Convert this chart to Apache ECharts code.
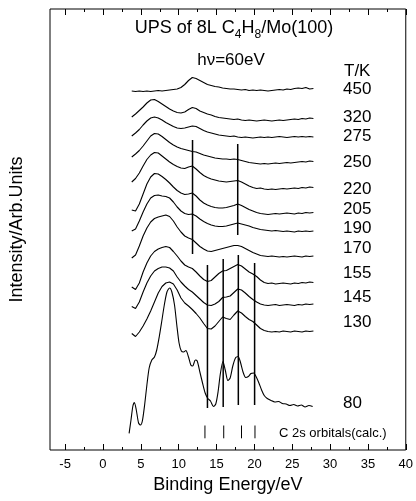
<!DOCTYPE html>
<html>
<head>
<meta charset="utf-8">
<script src="https://cdn.jsdelivr.net/npm/echarts@6/dist/echarts.min.js"></script>
<style>html,body{margin:0;padding:0;background:#fff}#c{width:416px;height:501px}</style>
</head>
<body>
<div id="c"></div>
<script>
// ---------------- data ----------------
const energies = [3.8,4.3,4.8,5.3,5.8,6.3,6.8,7.3,7.8,8.3,8.8,9.3,9.8,10.3,10.8,11.3,11.8,12.3,12.8,13.3,13.8,14.3,14.8,15.3,15.8,16.3,16.8,17.3,17.8,18.3,18.8,19.3,19.8,20.3,20.8,21.3,21.8,22.3,22.8,23.3,23.8,24.3,24.8,25.3,25.8,26.3,26.8,27.3,27.8];
const t450 = [359,358.5,359,358.5,359,358.5,359,359.5,359,359.5,360,360.5,361,362.5,365.5,369.5,372.5,371.5,369.5,367.5,365.5,364.5,363.5,363,362,361.5,361,361,360.5,360,360.5,359.5,360,359.5,360,359.5,359,359.5,360,360.5,360,361,360.5,361.5,362,361.5,362.5,361,361.5];
const t320 = [333,336,339.5,343,347,350,350.5,348.5,346,343.5,341,339,337.5,337,338,340.5,342.5,341.5,339,337.5,336,335,333.5,332.5,332,331.5,331,330.5,331,330,329.5,330,329.5,329,329.5,330,329.5,329,329.5,330,329.5,330,330.5,331,330.5,331.5,331,332,331.5];
const t275 = [314,317,320.5,325,329,332,333,332,330,327.5,325.5,323.5,322,321.5,322,323,324,323.5,321.5,319.5,318,317,316,315,314.5,314,313.5,314,313,312.5,313,312.5,312,312.5,313,312.5,313,312.5,313,313.5,313,312.5,313,313.5,313,313.5,313,313.5,313];
const t250 = [293,296,299.5,304,309,314,316.5,316,313.5,310.5,307.5,305,303,301.5,300.5,299.5,298.5,298,296.5,295,294,293,292,291.5,291,291,290.5,291,290.5,289.5,288.5,287.5,287,286.5,286,286.5,286,286.5,287,286.5,287,287.5,287,287.5,288,288.5,288,289,288.5];
const t220 = [268,271.5,277,284,290.5,295,297.5,297,294,291,288,285.5,283.5,282,281.5,283,284,281,277.5,274.5,272.5,271,270,269,268.5,268,268.5,269,269.5,268,266,264,262.5,261.5,262,261,260.5,261,260.5,261,261.5,261,261.5,262,261.5,262.5,262,263,262.5];
const t205 = [240,239,246,256,266,273,276.5,276,273.5,270.5,267,263,259.5,257,255.5,256,257,254,250,247,245,243.5,242.5,242,242,242.5,243.5,244.5,246,244.5,242.5,240.5,239,237.5,236.5,236,235.5,236,236.5,236,236.5,237,236.5,236,237,236.5,237.5,237,237.5];
const t190 = [219,221,229,238,246,252,254.5,255,254,253.5,252,248,243,239,236.5,235.5,236,234,231,228.5,226.5,225,224,223.5,223.5,224,225,226,227,226,225,224,222.5,221.5,220.5,220,219.5,219,219.5,219,218.5,219,218.5,218,219,218.5,219,218.5,219];
const t170 = [192,195,204,214,222,228,231.5,233,234,235,233.5,229,223,218,214,212,210.5,207,203.5,201,199,198.5,199.5,200.5,201.5,202.5,203.5,204.5,204.5,203.5,201.5,199.5,197.5,196,194.5,194,193.5,194,193.5,193,193.5,193,193.5,194,193.5,193,194,193.5,194];
const t155 = [163,160.5,167,178,187,194,198.5,201,202.5,203.5,202.5,198.5,194,189,185,183,181.5,178,174,170.5,168.5,169.5,173,176.5,179,179.5,181.5,183.5,185.5,184,181,178,176,173.5,170,167.5,166.5,167,166,166.5,167,166.5,166,167,166.5,167.5,167,168,167.5];
const t145 = [143.5,141.5,148,158,167,174,179,181.5,183,183,182,179,173,168,164,160.5,158,154.5,151,147.5,145,144.5,146,148.5,152.5,153,154,157.5,161,160,157,153.5,150.5,148,146,145,144.5,145,145.5,144.5,145,145.5,145,144.5,145.5,145,146,145.5,146];
const t130 = [116.5,113.5,118,124,131,139,148,157,163.5,167,168,166,160,152,147,144,140.5,136.5,132,126.5,121.5,121,124,128.5,133,131.5,130.5,135,139,137,133.5,130.5,128.5,125,121.5,119.5,118.5,118,118.5,118,119,118.5,118,119,118.5,118,119,118.5,119];
const energies80 = [3.45,3.7,3.95,4.15,4.4,4.7,4.95,5.2,5.5,5.8,6.1,6.45,6.8,7.1,7.45,7.75,8.1,8.45,8.8,9.1,9.45,9.75,10.05,10.35,10.65,10.95,11.3,11.6,11.85,12.2,12.45,12.8,13.15,13.5,13.85,14.2,14.6,14.9,15.2,15.5,15.85,16.15,16.5,16.8,17.15,17.5,17.85,18.15,18.5,18.85,19.2,19.55,19.9,20.25,20.6,20.95,21.3,21.7,22.2,22.7,23.2,23.7,24.2,24.7,25.2,25.7,26.2,26.7,27.2,27.7];
const t80 = [16.7,30,44,47.5,40,27,25,29,45,65,82,90,93,100,114,128,145,158,162,158,145,125,107,99,98,99.5,93,85,84,90,89,78,67,57,51.5,49,43.5,46,58,76,88.5,80,69.5,72,84,92,93.5,88,78,72.5,73.5,76.5,77,73,67,60,54.5,51.5,49.5,48,48.5,46.5,46,44.5,45.5,44,45,43,44.5,43.5];
const tempLabels = ['450','320','275','250','220','205','190','170','155','145','130','80'];
// reference lines (energy, upper intensity, lower intensity)
const refLineEnergies = [11.83, 17.8, 13.8, 15.88, 17.88, 20.03];
const refLineTop = [310, 306, 185, 191, 195, 187];
const refLineBottom = [196, 215, 42, 43, 45, 45];
const calcOrbitals = [13.47, 15.95, 18.3, 20.08];
const calcTickRange = [11.7, 24.5];
const majorTicks = [-5,0,5,10,15,20,25,30,35,40];
const minorTicks = [-2.5,2.5,7.5,12.5,17.5,22.5,27.5,32.5,37.5];

// ---------------- chart ----------------
const FONT = 'Liberation Sans, Arial, sans-serif';
const curves = [t450,t320,t275,t250,t220,t205,t190,t170,t155,t145,t130];
const series = [];
curves.forEach(function (vals, i) {
  series.push({
    type: 'line', name: tempLabels[i], xAxisIndex: 0, yAxisIndex: 0,
    data: energies.map(function (e, j) { return [e, vals[j]]; }),
    symbol: 'none', lineStyle: { color: '#000', width: 1.1 }, silent: true
  });
});
series.push({
  type: 'line', name: '80', data: energies80.map(function (e, j) { return [e, t80[j]]; }),
  symbol: 'none', smooth: 0.25, lineStyle: { color: '#000', width: 1.1 }, silent: true
});
refLineEnergies.forEach(function (e, i) {
  series.push({
    type: 'line', data: [[e, refLineTop[i]], [e, refLineBottom[i]]],
    symbol: 'none', lineStyle: { color: '#000', width: 1.5 }, silent: true
  });
});
calcOrbitals.forEach(function (e) {
  series.push({
    type: 'line', data: [[e, calcTickRange[0]], [e, calcTickRange[1]]],
    symbol: 'none', lineStyle: { color: '#000', width: 1 }, silent: true
  });
});

function xAx(pos, ticks, len, labels) {
  return {
    type: 'value', position: pos, min: -7, max: 40,
    axisLine: { show: false },
    axisTick: { show: true, inside: true, length: len, customValues: ticks, lineStyle: { color: '#000', width: 1 } },
    axisLabel: labels ? { show: true, customValues: ticks, fontSize: 13, color: '#000', fontFamily: FONT, margin: 8 } : { show: false },
    splitLine: { show: false }
  };
}
const xAxes = [xAx('bottom', majorTicks, 6, true), xAx('bottom', minorTicks, 3, false), xAx('top', majorTicks, 6, false), xAx('top', minorTicks, 3, false)];
xAxes[0].name = 'Binding Energy/eV';
xAxes[0].nameLocation = 'middle';
xAxes[0].nameGap = 25;
xAxes[0].nameTextStyle = { fontSize: 18, color: '#000', fontFamily: FONT };

const labelY = [89,117,136,162,189,209,228,248,273,297,322,403];
const graphics = [
  { type: 'text', x: 234, y: 30, style: { text: '{n|UPS of 8L C}{s|4}{n|H}{s|8}{n|/Mo(100)}', align: 'center', verticalAlign: 'middle', fill: '#000',
    rich: { n: { fontSize: 18, fontFamily: FONT, lineHeight: 22, verticalAlign: 'top' }, s: { fontSize: 12, fontFamily: FONT, lineHeight: 13, verticalAlign: 'bottom' } } } },
  { type: 'text', x: 231, y: 60, style: { text: 'h\u03bd=60eV', align: 'center', verticalAlign: 'middle', fontSize: 17, fontFamily: FONT, fill: '#000' } },
  { type: 'text', x: 344, y: 71, style: { text: 'T/K', align: 'left', verticalAlign: 'middle', fontSize: 17, fontFamily: FONT, fill: '#000' } },
  { type: 'text', x: 279, y: 433, style: { text: 'C 2s orbitals(calc.)', align: 'left', verticalAlign: 'middle', fontSize: 13, fontFamily: FONT, fill: '#000' } }
];
tempLabels.forEach(function (t, i) {
  graphics.push({ type: 'text', x: 343, y: labelY[i], style: { text: t, align: 'left', verticalAlign: 'middle', fontSize: 17, fontFamily: FONT, fill: '#000' } });
});

const chart = echarts.init(document.getElementById('c'), null, { renderer: 'canvas' });
chart.setOption({
  animation: false,
  backgroundColor: '#fff',
  grid: { left: 48, right: 6, top: 9, bottom: 51, show: true, borderColor: '#000', borderWidth: 1, backgroundColor: 'transparent' },
  xAxis: xAxes,
  yAxis: {
    type: 'value', min: 0, max: 441,
    axisLine: { show: false }, axisTick: { show: false }, axisLabel: { show: false }, splitLine: { show: false },
    name: 'Intensity/Arb.Units', nameLocation: 'middle', nameGap: 24, nameRotate: 90,
    nameTextStyle: { fontSize: 18, color: '#000', fontFamily: FONT }
  },
  series: series,
  graphic: graphics
});
</script>
</body>
</html>
